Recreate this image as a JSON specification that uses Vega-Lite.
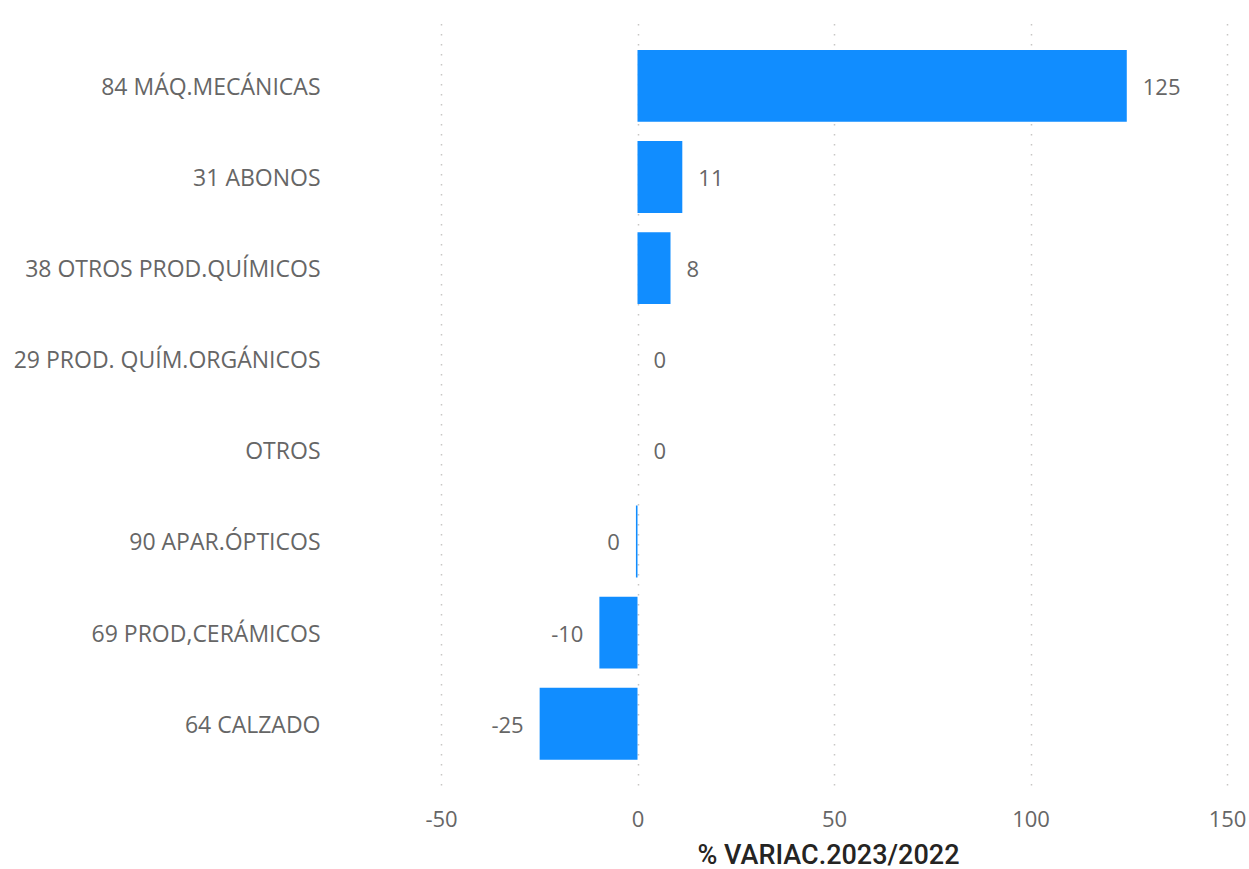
{
  "$schema": "https://vega.github.io/schema/vega-lite/v6.json",
  "width": 786,
  "height": 770,
  "autosize": {"type": "none"},
  "padding": {"left": 441, "top": 15, "right": 22, "bottom": 84},
  "background": "white",
  "config": {
    "view": {"stroke": null},
    "font": "Open Sans",
    "locale": {"number": {"decimal": ".", "thousands": ",", "grouping": [3], "currency": ["", ""], "minus": "-"}}
  },
  "data": {
    "values": [
      {"cat": "84 MÁQ.MECÁNICAS", "v": 124.5},
      {"cat": "31 ABONOS", "v": 11.4},
      {"cat": "38 OTROS PROD.QUÍMICOS", "v": 8.4},
      {"cat": "29 PROD. QUÍM.ORGÁNICOS", "v": 0},
      {"cat": "OTROS", "v": 0},
      {"cat": "90 APAR.ÓPTICOS", "v": -0.4},
      {"cat": "69 PROD,CERÁMICOS", "v": -9.7},
      {"cat": "64 CALZADO", "v": -24.9}
    ]
  },
  "encoding": {
    "y": {
      "field": "cat",
      "type": "nominal",
      "sort": null,
      "scale": {"paddingInner": 0.21, "paddingOuter": 0.33, "align": 0.58},
      "axis": {
        "title": null,
        "ticks": false,
        "domain": false,
        "labelPadding": 121,
        "labelOffset": 2,
        "labelFontSize": 23,
        "labelColor": "#666666",
        "labelFont": "Open Sans",
        "labelLimit": 440
      }
    },
    "x": {
      "field": "v",
      "type": "quantitative",
      "scale": {"domain": [-50, 150], "nice": false},
      "axis": {
        "values": [-50, 0, 50, 100, 150],
        "format": ".0f",
        "title": "% VARIAC.2023/2022",
        "titleFontSize": 27,
        "titleFont": "Roboto",
        "titleFontWeight": 500,
        "titleColor": "#252423",
        "titlePadding": 12,
        "titleX": 387,
        "ticks": false,
        "domain": false,
        "labelFlush": false,
        "labelPadding": 24,
        "labelFontSize": 22,
        "labelColor": "#666666",
        "labelFont": "Open Sans",
        "grid": true,
        "gridColor": "#C8C6C4",
        "gridDash": [1.5, 8.5],
        "gridWidth": 1.5
      }
    }
  },
  "layer": [
    {"mark": {"type": "bar", "color": "#118DFF"}},
    {
      "transform": [{"filter": "datum.v >= 0"}],
      "mark": {"type": "text", "align": "left", "dx": 16, "dy": 2, "fontSize": 22, "color": "#666666", "font": "Open Sans"},
      "encoding": {"text": {"field": "v", "type": "quantitative", "format": ".0f"}}
    },
    {
      "transform": [{"filter": "datum.v < 0"}],
      "mark": {"type": "text", "align": "right", "dx": -16, "dy": 2, "fontSize": 22, "color": "#666666", "font": "Open Sans"},
      "encoding": {"text": {"field": "v", "type": "quantitative", "format": ".0f"}}
    }
  ]
}
